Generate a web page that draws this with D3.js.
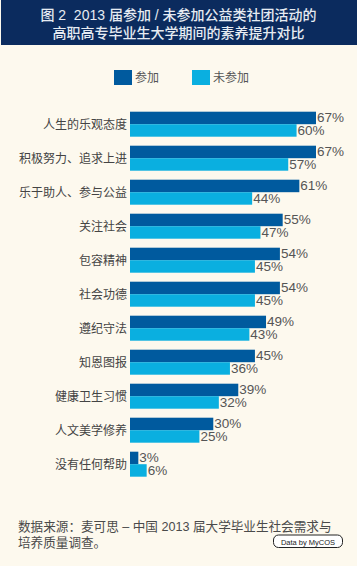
<!DOCTYPE html>
<html><head><meta charset="utf-8">
<script src="https://cdn.jsdelivr.net/npm/d3@7"></script>
<style>
html,body{margin:0;padding:0;background:#fdf9ee;}
svg{display:block;}
</style></head><body>
<script>
const titleLines = ["图 2  2013 届参加 / 未参加公益类社团活动的", "高职高专毕业生大学期间的素养提升对比"];
const seriesNames = ["参加", "未参加"];
const categories = ["人生的乐观态度","积极努力、追求上进","乐于助人、参与公益","关注社会","包容精神","社会功德","遵纪守法","知恩图报","健康卫生习惯","人文美学修养","没有任何帮助"];
const joined = [67,67,61,55,54,54,49,45,39,30,3];
const notJoined = [60,57,44,47,45,45,43,36,32,25,6];
const sourceLines = ["数据来源：麦可思 – 中国 2013 届大学毕业生社会需求与", "培养质量调查。"];
const colors = ["#005a9e", "#0aafe0"];

const W = 357, H = 566;
const svg = d3.select("body").append("svg").attr("width", W).attr("height", H);
svg.append("rect").attr("width", W).attr("height", H).attr("fill", "#fdf9ee");

// title band
svg.append("rect").attr("x", 1).attr("y", 0).attr("width", W - 1).attr("height", 45).attr("fill", "#0b2b5e");
const mixed = "'Liberation Sans', 'Noto Sans CJK SC', sans-serif";
const cjk = "'Noto Sans CJK SC', 'Liberation Sans', sans-serif";
const title = svg.append("text")
  .attr("text-anchor", "middle")
  .attr("font-family", mixed).attr("font-size", 14).attr("fill", "#e6ebf2")
  .attr("font-weight", 500)
  .style("white-space", "pre");
title.selectAll("tspan").data(titleLines).join("tspan")
  .attr("x", W / 2).attr("y", (d, i) => 20 + i * 18)
  .text(d => d);

// legend
const legend = svg.append("g");
const legX = [114, 192];
seriesNames.forEach((n, i) => {
  legend.append("rect").attr("x", legX[i]).attr("y", 70).attr("width", 18).attr("height", 15).attr("fill", colors[i]);
  legend.append("text").attr("x", legX[i] + 21).attr("y", 82)
    .attr("font-family", cjk).attr("font-size", 12).attr("fill", "#555")
    .text(n);
});

// scales
const x = d3.scaleLinear().domain([0, 67]).range([130, 316]);
const y = d3.scaleBand().domain(categories).range([111.7, 111.7 + 34 * 11]).paddingInner(0).paddingOuter(0);
const barH = 12.5;

const groups = svg.selectAll("g.grp").data(categories).join("g").attr("class", "grp")
  .attr("transform", d => `translate(0,${y(d)})`);

groups.append("rect").attr("x", x(0)).attr("y", 0).attr("height", barH)
  .attr("width", (d, i) => x(joined[i]) - x(0)).attr("fill", colors[0]);
groups.append("rect").attr("x", x(0)).attr("y", barH).attr("height", barH)
  .attr("width", (d, i) => x(notJoined[i]) - x(0)).attr("fill", colors[1]);

const numFont = "'Liberation Sans', Arial, sans-serif";
const vl = groups.append("text")
  .attr("font-family", numFont).attr("font-size", 13.5).attr("fill", "#555");
vl.append("tspan").attr("x", (d, i) => x(joined[i]) + 1).attr("y", 10.7)
  .text((d, i) => joined[i] + "%");
vl.append("tspan").attr("x", (d, i) => x(notJoined[i]) + 1).attr("y", 23.6)
  .text((d, i) => notJoined[i] + "%");

groups.append("text").attr("x", 127).attr("y", barH + 4.5)
  .attr("text-anchor", "end")
  .attr("font-family", cjk).attr("font-size", 12).attr("fill", "#444")
  .text(d => d);

// source
const src = svg.append("text")
  .attr("font-family", mixed).attr("font-size", 12.6).attr("fill", "#4a4a4a")
  .style("white-space", "pre");
src.selectAll("tspan").data(sourceLines).join("tspan")
  .attr("x", 18).attr("y", (d, i) => 531 + i * 15.5)
  .text(d => d);

// badge
svg.append("rect").attr("x", 273.5).attr("y", 535).attr("width", 69).attr("height", 12.5).attr("rx", 5)
  .attr("fill", "#fff").attr("stroke", "#222").attr("stroke-width", 1);
svg.append("text").attr("x", 308).attr("y", 544.5).attr("text-anchor", "middle")
  .attr("font-family", numFont).attr("font-size", 7.5).attr("fill", "#222")
  .text("Data by MyCOS");
</script>
</body></html>
